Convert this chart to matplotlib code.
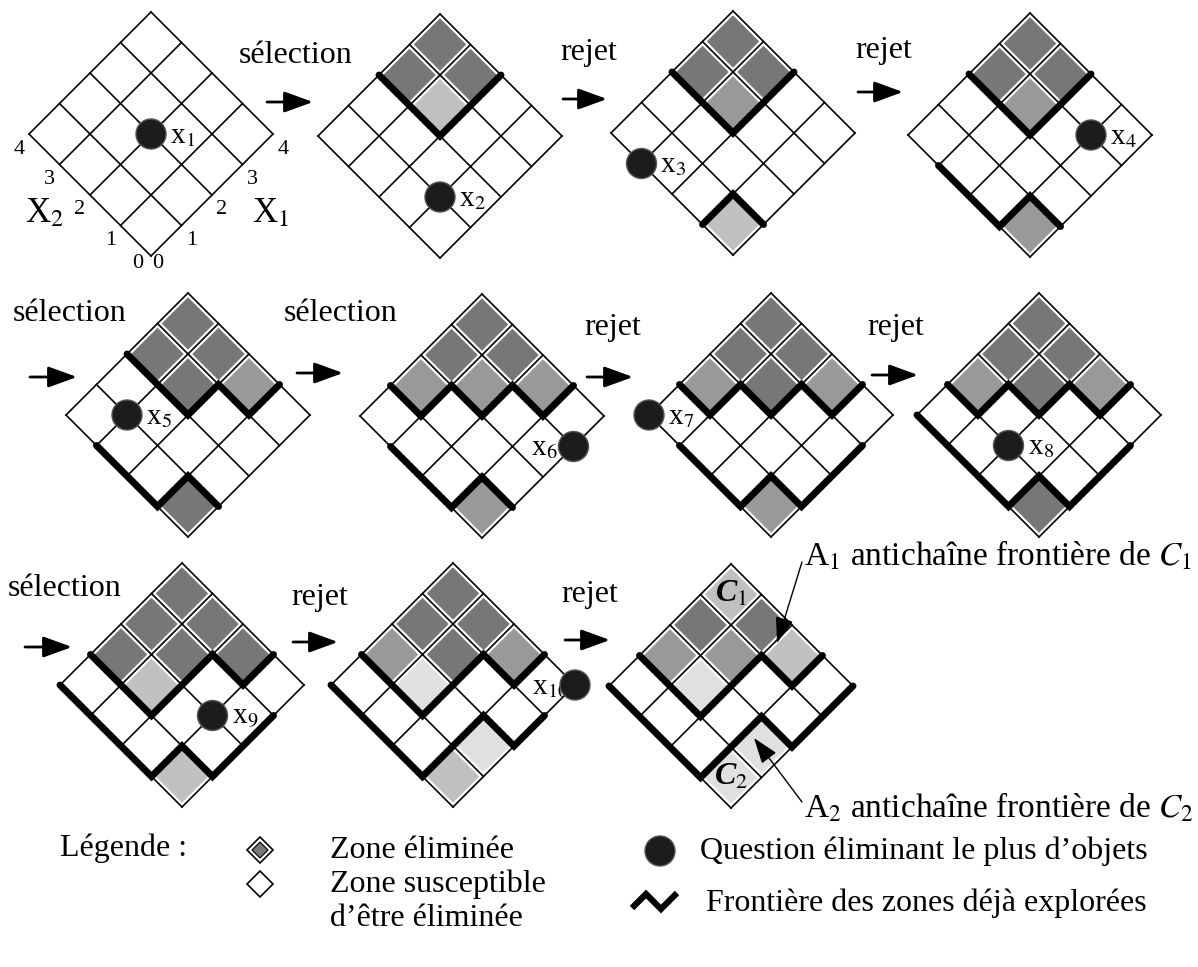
import matplotlib
matplotlib.use("Agg")
import matplotlib.pyplot as plt
from matplotlib.patches import Polygon, Circle

plt.rcParams['font.family'] = ['Liberation Serif', 'DejaVu Serif']
plt.rcParams['mathtext.fontset'] = 'stix'

# ---------------------------------------------------------------- data
steps = ["sélection", "rejet", "rejet", "sélection", "sélection",
         "rejet", "rejet", "sélection", "rejet", "rejet"]

# question asked in each panel, as (x1, x2) grid coordinates
questions = [(2, 2), (1, 1), (0, 3), (3, 1), (1, 3), (3, 0), (0, 4), (1, 2), (2, 1), (4, 0)]
q_labels = ["x$_{%d}$" % k for k in range(1, 11)]
q_side = ["r", "r", "r", "r", "r", "l", "r", "r", "r", "l"]

# shaded cells per panel: (x1 cell, x2 cell, shade level)
shades = [
    [],
    [(3, 3, 3), (2, 3, 3), (3, 2, 3), (2, 2, 1)],
    [(3, 3, 3), (2, 3, 3), (3, 2, 3), (2, 2, 2), (0, 0, 1)],
    [(3, 3, 3), (2, 3, 3), (3, 2, 3), (2, 2, 2), (0, 0, 2)],
    [(3, 3, 3), (2, 3, 3), (3, 2, 3), (2, 2, 3), (3, 1, 2), (0, 0, 3)],
    [(3, 3, 3), (2, 3, 3), (3, 2, 3), (1, 3, 2), (2, 2, 2), (3, 1, 2), (0, 0, 2)],
    [(3, 3, 3), (2, 3, 3), (3, 2, 3), (1, 3, 2), (2, 2, 3), (3, 1, 2), (0, 0, 2)],
    [(3, 3, 3), (2, 3, 3), (3, 2, 3), (1, 3, 2), (2, 2, 3), (3, 1, 2), (0, 0, 3)],
    [(3, 3, 3), (2, 3, 3), (3, 2, 3), (1, 3, 3), (2, 2, 3), (3, 1, 3), (1, 2, 1), (0, 0, 1)],
    [(3, 3, 3), (2, 3, 3), (3, 2, 3), (1, 3, 2), (2, 2, 3), (3, 1, 2), (1, 2, 0), (1, 0, 0), (0, 0, 1)],
    [(3, 3, 1), (2, 3, 3), (3, 2, 3), (1, 3, 2), (2, 2, 2), (3, 1, 1), (1, 2, 0), (1, 0, 0), (0, 0, 0)],
]

# frontier of explored zones per panel (thick polylines in grid coordinates)
up_a = [(2, 4), (2, 2), (4, 2)]
up_b = [(2, 4), (2, 2), (3, 2), (3, 1), (4, 1)]
up_c = [(1, 4), (1, 3), (2, 3), (2, 2), (3, 2), (3, 1), (4, 1)]
up_d = [(1, 4), (1, 2), (3, 2), (3, 1), (4, 1)]
frontiers = [
    [],
    [up_a],
    [up_a, [(0, 1), (1, 1), (1, 0)]],
    [up_a, [(0, 3), (0, 1), (1, 1), (1, 0)]],
    [up_b, [(0, 3), (0, 1), (1, 1), (1, 0)]],
    [up_c, [(0, 3), (0, 1), (1, 1), (1, 0)]],
    [up_c, [(0, 3), (0, 1), (1, 1), (1, 0), (3, 0)]],
    [up_c, [(0, 4), (0, 1), (1, 1), (1, 0), (3, 0)]],
    [up_d, [(0, 4), (0, 1), (1, 1), (1, 0), (3, 0)]],
    [up_d, [(0, 4), (0, 1), (2, 1), (2, 0), (3, 0)]],
    [up_d, [(0, 4), (0, 1), (2, 1), (2, 0), (4, 0)]],
]

axis_ticks = ["0", "1", "2", "3", "4"]

# ---------------------------------------------------------------- layout
S = 30.5  # half diagonal of one cell, in pixels
origins = [(151, 256), (440, 258), (733, 255), (1030, 257),
           (188, 537), (482, 538), (771, 537), (1039, 537),
           (182, 807), (453, 807), (731, 808)]
step_text = [(296, 63), (589, 60), (884, 58), (70, 321), (341, 321),
             (613, 335), (896, 335), (65, 596), (320, 605), (590, 602)]
step_arrow = [(267, 313, 102), (563, 607, 99), (858, 903, 92), (30, 77, 377), (297, 343, 373),
              (587, 633, 377), (872, 918, 375), (25, 72, 647), (293, 338, 642), (565, 610, 640)]
grays = {3: '#777777', 2: '#999999', 1: '#c0c0c0', 0: '#e0e0e0'}
FS = 23

fig = plt.figure(figsize=(11.98, 9.67), dpi=100)
ax = fig.add_axes([0, 0, 1, 1])
ax.set_xlim(0, 1198)
ax.set_ylim(967, 0)
ax.axis('off')


def pt(o, a, b):
    return (o[0] + (a - b) * S, o[1] - (a + b) * S)


def cell(o, i, j, m=0.0):
    corners = [(i + m, j + m), (i + 1 - m, j + m), (i + 1 - m, j + 1 - m), (i + m, j + 1 - m)]
    return [pt(o, a, b) for a, b in corners]


for p, o in enumerate(origins):
    for i, j, lvl in shades[p]:
        ax.add_patch(Polygon(cell(o, i, j, 0.07), closed=True, fc=grays[lvl], ec='none', zorder=1))
    for k in range(5):
        for a0, b0, a1, b1 in [(k, 0, k, 4), (0, k, 4, k)]:
            (xa, ya), (xb, yb) = pt(o, a0, b0), pt(o, a1, b1)
            ax.plot([xa, xb], [ya, yb], color='black', lw=1.2, zorder=2)
    for path in frontiers[p]:
        xy = [pt(o, a, b) for a, b in path]
        ax.plot([q[0] for q in xy], [q[1] for q in xy], color='black', lw=5,
                solid_capstyle='round', solid_joinstyle='miter', zorder=3)
    if p < len(questions):
        qx, qy = pt(o, *questions[p])
        ax.add_patch(Circle((qx, qy), 15, fc='#1c1c1c', ec='#555555', lw=1, zorder=5))
        if q_side[p] == "r":
            ax.text(qx + 19, qy + 9, q_labels[p], fontsize=21, ha='left', va='baseline', zorder=4)
        else:
            dx = -16 if p < 9 else -6
            ax.text(qx + dx, qy + 9, q_labels[p], fontsize=21, ha='right', va='baseline', zorder=4)

# axis graduations of the first panel
o = origins[0]
for k, t in enumerate(axis_ticks[1:], start=1):
    x, y = pt(o, 0, k)
    ax.text(x - 10, y + 15, t, fontsize=16, ha='center', va='center')
    x, y = pt(o, k, 0)
    ax.text(x + 10, y + 15, t, fontsize=16, ha='center', va='center')
ax.text(o[0] - 13, o[1] + 7, axis_ticks[0], fontsize=16, ha='center', va='center')
ax.text(o[0] + 7, o[1] + 7, axis_ticks[0], fontsize=16, ha='center', va='center')
ax.text(45, 214, "X$_2$", fontsize=25, ha='center', va='center')
ax.text(271, 214, "X$_1$", fontsize=25, ha='center', va='center')

# transitions between panels
for s, (tx, ty), (x0, x1, y) in zip(steps, step_text, step_arrow):
    ax.text(tx, ty, s, fontsize=FS, ha='center', va='baseline')
    ax.annotate('', xy=(x1, y), xytext=(x0, y),
                arrowprops=dict(arrowstyle='-|>,head_length=1.1,head_width=0.4', mutation_scale=16,
                                lw=2, color='black', shrinkA=0, shrinkB=0))

# antichain annotations on the last panel
o = origins[-1]
cx, cy = pt(o, 3.5, 3.5)
ax.text(cx, cy, "C$_1$", fontsize=23, style='italic', weight='bold', ha='center', va='center', zorder=4)
cx, cy = pt(o, 0.5, 0.5)
ax.text(cx, cy, "C$_2$", fontsize=23, style='italic', weight='bold', ha='center', va='center', zorder=4)
ax.text(804, 556, "A$_1$ antichaîne frontière de $C_1$", fontsize=24, ha='left', va='center')
ax.text(804, 808, "A$_2$ antichaîne frontière de $C_2$", fontsize=24, ha='left', va='center')
for start, tip in [((802, 562), (777, 643)), ((802, 802), (754, 738))]:
    ax.annotate('', xy=tip, xytext=start,
                arrowprops=dict(arrowstyle='-|>,head_length=1.0,head_width=0.35', mutation_scale=16,
                                lw=1, color='black', shrinkA=0, shrinkB=0), zorder=6)

# legend
ax.text(60, 848, "Légende :", fontsize=FS, ha='left', va='center')
lx, ly, r = 260, 850, 13
ax.add_patch(Polygon([(lx, ly - r), (lx + r, ly), (lx, ly + r), (lx - r, ly)], closed=True,
                     fc='white', ec='black', lw=1.2))
r2 = 8
ax.add_patch(Polygon([(lx, ly - r2), (lx + r2, ly), (lx, ly + r2), (lx - r2, ly)], closed=True,
                     fc=grays[3], ec='black', lw=0.8))
lx, ly = 260, 884
ax.add_patch(Polygon([(lx, ly - r), (lx + r, ly), (lx, ly + r), (lx - r, ly)], closed=True,
                     fc='white', ec='black', lw=1.2))
ax.text(330, 850, "Zone éliminée", fontsize=FS, ha='left', va='center')
ax.text(330, 884, "Zone susceptible", fontsize=FS, ha='left', va='center')
ax.text(330, 918, "d\u2019être éliminée", fontsize=FS, ha='left', va='center')
ax.add_patch(Circle((660, 851), 15, fc='#1c1c1c', ec='#555555', lw=1))
ax.text(700, 851, "Question éliminant le plus d\u2019objets", fontsize=FS, ha='left', va='center')
ax.plot([632, 646, 661, 677], [908, 894, 909, 893], color='black', lw=4.5,
        solid_joinstyle='miter', solid_capstyle='butt')
ax.text(706, 903, "Frontière des zones déjà explorées", fontsize=FS, ha='left', va='center')

fig.savefig("out.png", dpi=100)
